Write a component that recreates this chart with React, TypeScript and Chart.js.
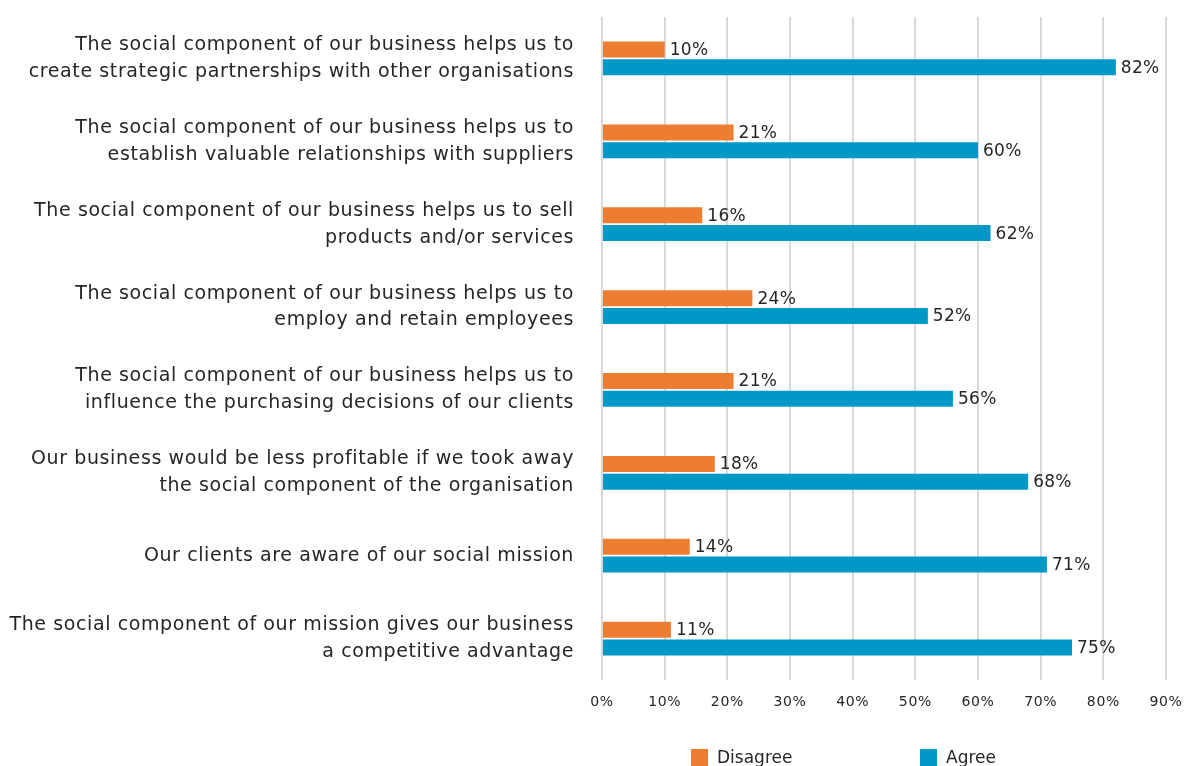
import React, { useEffect, useRef } from "react";
import { Chart, registerables } from "chart.js";

Chart.register(...registerables);

const categories: string[][] = [
  ["The social component of our business helps us to", "create strategic partnerships with other organisations"],
  ["The social component of our business helps us to", "establish valuable relationships with suppliers"],
  ["The social component of our business helps us to sell", "products and/or services"],
  ["The social component of our business helps us to", "employ and retain employees"],
  ["The social component of our business helps us to", "influence the purchasing decisions of our clients"],
  ["Our business would be less profitable if we took away", "the social component of the organisation"],
  ["Our clients are aware of our social mission"],
  ["The social component of our mission gives our business", "a competitive advantage"],
];

const disagree = [10, 21, 16, 24, 21, 18, 14, 11];
const agree = [82, 60, 62, 52, 56, 68, 71, 75];

const seriesNames = ["Disagree", "Agree"];
const seriesColors = ["#ED7D31", "#0098C6"];

const FONT = "'DejaVu Sans', sans-serif";

const spacing = {
  id: "spacing",
  beforeDraw(chart: any) {
    chart.ctx.letterSpacing = "0.6px";
  },
};

const valueLabels = {
  id: "valueLabels",
  afterDatasetsDraw(chart: any) {
    const ctx = chart.ctx;
    ctx.save();
    ctx.letterSpacing = "0.3px";
    ctx.font = `17px ${FONT}`;
    ctx.fillStyle = "#262626";
    ctx.textAlign = "left";
    ctx.textBaseline = "middle";
    chart.data.datasets.forEach((ds: any, i: number) => {
      const meta = chart.getDatasetMeta(i);
      meta.data.forEach((bar: any, j: number) => {
        ctx.fillText(`${ds.data[j]}%`, bar.x + 5, bar.y + 1);
      });
    });
    ctx.restore();
  },
};

const customLegend = {
  id: "customLegend",
  afterDraw(chart: any) {
    const ctx = chart.ctx;
    const left = chart.chartArea.left;
    const offsets = [89, 318];
    ctx.save();
    ctx.letterSpacing = "0px";
    ctx.font = `17px ${FONT}`;
    ctx.textBaseline = "middle";
    ctx.textAlign = "left";
    chart.data.datasets.forEach((ds: any, i: number) => {
      const x = left + offsets[i];
      const y = 749;
      ctx.fillStyle = ds.backgroundColor;
      ctx.fillRect(x, y, 17, 17);
      ctx.fillStyle = "#262626";
      ctx.fillText(ds.label, x + 26, y + 10);
    });
    ctx.restore();
  },
};

export default function App() {
  const ref = useRef<HTMLCanvasElement | null>(null);

  useEffect(() => {
    if (!ref.current) return;
    const chart = new Chart(ref.current, {
      type: "bar",
      data: {
        labels: categories as any,
        datasets: [
          {
            label: seriesNames[0],
            data: disagree,
            backgroundColor: seriesColors[0],
            categoryPercentage: 0.43,
            barPercentage: 0.9,
          },
          {
            label: seriesNames[1],
            data: agree,
            backgroundColor: seriesColors[1],
            categoryPercentage: 0.43,
            barPercentage: 0.9,
          },
        ],
      },
      options: {
        indexAxis: "y",
        animation: false,
        responsive: false,
        layout: { padding: { top: 17, right: 19, left: 0, bottom: 0 } },
        plugins: {
          legend: { display: false },
          tooltip: { enabled: false },
        },
        scales: {
          x: {
            min: 0,
            max: 90,
            ticks: {
              stepSize: 10,
              callback: (v: any) => `${v}%`,
              color: "#262626",
              font: { family: FONT, size: 14 },
              padding: 14,
            },
            grid: { color: "#d9d9d9", lineWidth: 2, drawTicks: false },
            border: { display: false },
            afterFit: (scale: any) => {
              scale.height = 86;
              scale.paddingLeft = 0;
              scale.paddingRight = 0;
            },
          },
          y: {
            ticks: {
              color: "#262626",
              font: { family: FONT, size: 19, lineHeight: 1.42 },
              padding: 28,
            },
            grid: { display: false, drawTicks: false },
            border: { display: false },
            afterFit: (scale: any) => {
              scale.width = 602;
              scale.paddingTop = 0;
              scale.paddingBottom = 0;
            },
          },
        },
      },
      plugins: [spacing, valueLabels, customLegend],
    });
    return () => chart.destroy();
  }, []);

  return (
    <div style={{ position: "fixed", left: 0, top: 0, width: 1185, height: 766, background: "#fff" }}>
      <canvas ref={ref} width={1185} height={766} />
    </div>
  );
}
